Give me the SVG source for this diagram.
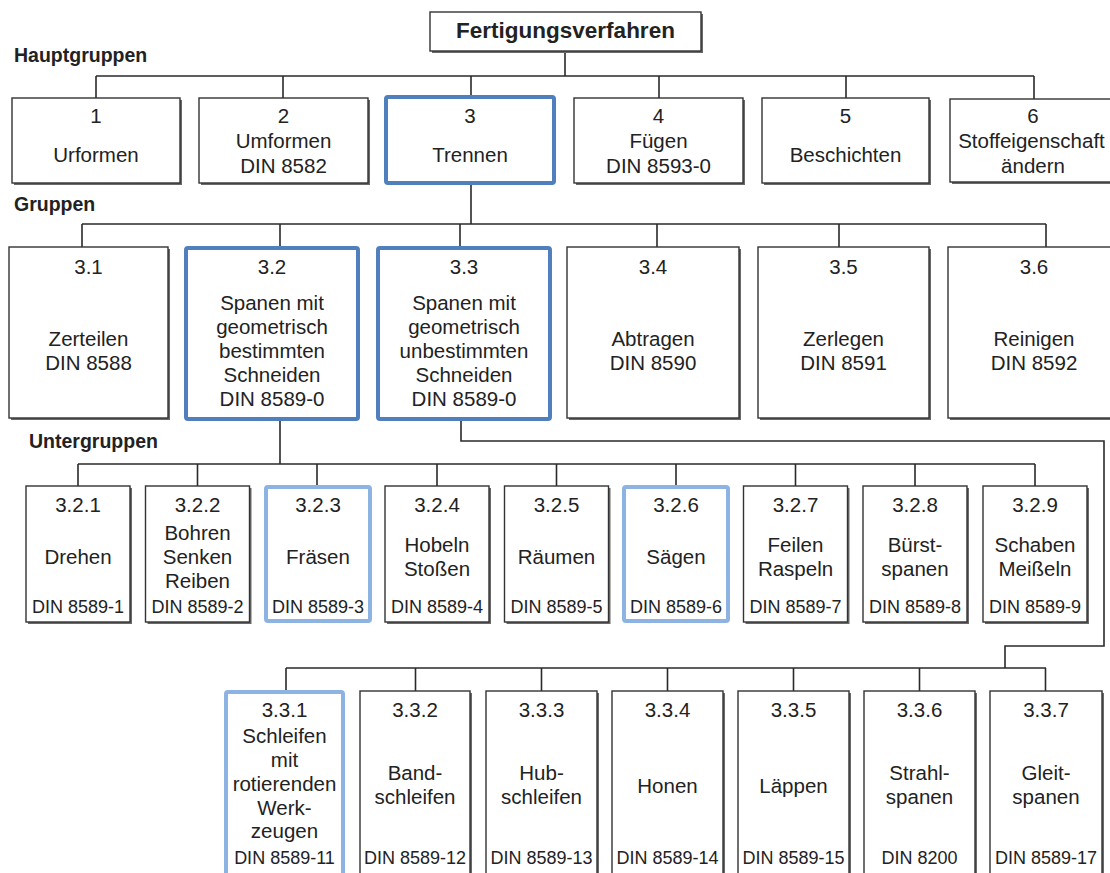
<svg xmlns="http://www.w3.org/2000/svg" width="1110" height="873" viewBox="0 0 1110 873">
<style>
.bg{fill:#fff}
.sh{fill:#6a6a6a}
.box{fill:#fff;stroke:#333;stroke-width:1.4}
.hl{fill:#fff;stroke:#4f7fbd;stroke-width:4}
.hl2{fill:#fff;stroke:#8db3e2;stroke-width:4}
text{font-family:"Liberation Sans",Arial,sans-serif;fill:#222}
.t{font-size:20.5px;text-anchor:middle}
.d{font-size:18px;text-anchor:middle}
.h{font-size:19.5px;font-weight:bold}
.ti{font-size:22.5px;font-weight:bold;text-anchor:middle}
.conn path{stroke:#2a2a2a;stroke-width:1.6;fill:none}
</style>
<rect class="bg" x="0" y="0" width="1110" height="873"/>

<g class="conn" id="connectors">
<path d="M565 51V76M96 76H1034M96 76V98M283 76V98M471 76V96M659 76V98M846 76V98M1034 76V99"/>
<path d="M471 185V224M82 224H1046M82 224V247M280 224V246M460 224V246M657 224V247M839 224V247M1046 224V247"/>
<path d="M280 421V464M78 464H1035M78 464V486M197.5 464V486M317 464V485M437 464V486M556.5 464V486M676 464V485M795.5 464V486M915 464V486M1035 464V486"/>
<path d="M461 421V441H1104V646H1005V668M286 668H1046M286 668V690M415.5 668V691M541.5 668V691M667.5 668V691M793.5 668V691M919.5 668V691M1045.5 668V691"/>
</g>

<text class="h" x="14" y="62">Hauptgruppen</text>
<text class="h" x="14" y="211">Gruppen</text>
<text class="h" x="29" y="448">Untergruppen</text>

<g id="root">
<rect class="sh" x="432" y="14" width="271" height="39"/>
<rect class="box" x="430" y="12" width="271" height="39"/>
<text class="ti" x="565.5" y="38">Fertigungsverfahren</text>
</g>

<g id="hg1"><rect class="sh" x="14" y="100" width="168" height="85"/><rect class="box" x="12" y="98" width="168" height="85"/>
<text class="t" x="96" y="123">1</text><text class="t" x="96" y="162">Urformen</text></g>
<g id="hg2"><rect class="sh" x="201" y="100" width="169" height="85"/><rect class="box" x="199" y="98" width="169" height="85"/>
<text class="t" x="283.5" y="123">2</text><text class="t" x="283.5" y="148">Umformen</text><text class="t" x="283.5" y="173">DIN 8582</text></g>
<g id="hg3"><rect class="hl" x="386" y="97" width="168" height="86" rx="2"/>
<text class="t" x="470" y="123">3</text><text class="t" x="470" y="162">Trennen</text></g>
<g id="hg4"><rect class="sh" x="576" y="100" width="169" height="85"/><rect class="box" x="574" y="98" width="169" height="85"/>
<text class="t" x="658.5" y="123">4</text><text class="t" x="658.5" y="148">Fügen</text><text class="t" x="658.5" y="173">DIN 8593-0</text></g>
<g id="hg5"><rect class="sh" x="764" y="100" width="167" height="85"/><rect class="box" x="762" y="98" width="167" height="85"/>
<text class="t" x="845.5" y="123">5</text><text class="t" x="845.5" y="162">Beschichten</text></g>
<g id="hg6"><rect class="sh" x="952" y="101" width="168" height="83"/><rect class="box" x="950" y="99" width="168" height="83"/>
<text class="t" x="1033" y="123">6</text><text class="t" x="1031.5" y="148">Stoffeigenschaft</text><text class="t" x="1033" y="173">ändern</text></g>

<g id="g31"><rect class="sh" x="11" y="249" width="159" height="171"/><rect class="box" x="9" y="247" width="159" height="171"/>
<text class="t" x="88.5" y="274">3.1</text><text class="t" x="88.5" y="346">Zerteilen</text><text class="t" x="88.5" y="370">DIN 8588</text></g>
<g id="g32"><rect class="hl" x="186" y="248" width="172" height="171" rx="2"/>
<text class="t" x="272" y="274">3.2</text><text class="t" x="272" y="310">Spanen mit</text><text class="t" x="272" y="334">geometrisch</text><text class="t" x="272" y="358">bestimmten</text><text class="t" x="272" y="382">Schneiden</text><text class="t" x="272" y="406">DIN 8589-0</text></g>
<g id="g33"><rect class="hl" x="378" y="248" width="172" height="171" rx="2"/>
<text class="t" x="464" y="274">3.3</text><text class="t" x="464" y="310">Spanen mit</text><text class="t" x="464" y="334">geometrisch</text><text class="t" x="464" y="358">unbestimmten</text><text class="t" x="464" y="382">Schneiden</text><text class="t" x="464" y="406">DIN 8589-0</text></g>
<g id="g34"><rect class="sh" x="569" y="249" width="172" height="171"/><rect class="box" x="567" y="247" width="172" height="171"/>
<text class="t" x="653" y="274">3.4</text><text class="t" x="653" y="346">Abtragen</text><text class="t" x="653" y="370">DIN 8590</text></g>
<g id="g35"><rect class="sh" x="760" y="249" width="171" height="171"/><rect class="box" x="758" y="247" width="171" height="171"/>
<text class="t" x="843.5" y="274">3.5</text><text class="t" x="843.5" y="346">Zerlegen</text><text class="t" x="843.5" y="370">DIN 8591</text></g>
<g id="g36"><rect class="sh" x="950" y="249" width="172" height="171"/><rect class="box" x="948" y="247" width="172" height="171"/>
<text class="t" x="1034" y="274">3.6</text><text class="t" x="1034" y="346">Reinigen</text><text class="t" x="1034" y="370">DIN 8592</text></g>

<g id="u321"><rect class="sh" x="28" y="488" width="104" height="136"/><rect class="box" x="26" y="486" width="104" height="136"/>
<text class="t" x="78" y="512">3.2.1</text><text class="t" x="78" y="564">Drehen</text><text class="d" x="78" y="613">DIN 8589-1</text></g>
<g id="u322"><rect class="sh" x="147.5" y="488" width="104" height="136"/><rect class="box" x="145.5" y="486" width="104" height="136"/>
<text class="t" x="197.5" y="512">3.2.2</text><text class="t" x="197.5" y="540">Bohren</text><text class="t" x="197.5" y="564">Senken</text><text class="t" x="197.5" y="588">Reiben</text><text class="d" x="197.5" y="613">DIN 8589-2</text></g>
<g id="u323"><rect class="hl2" x="266" y="487" width="104" height="134" rx="2"/>
<text class="t" x="318" y="512">3.2.3</text><text class="t" x="318" y="564">Fräsen</text><text class="d" x="318" y="613">DIN 8589-3</text></g>
<g id="u324"><rect class="sh" x="387" y="488" width="104" height="136"/><rect class="box" x="385" y="486" width="104" height="136"/>
<text class="t" x="437" y="512">3.2.4</text><text class="t" x="437" y="552">Hobeln</text><text class="t" x="437" y="576">Stoßen</text><text class="d" x="437" y="613">DIN 8589-4</text></g>
<g id="u325"><rect class="sh" x="506.5" y="488" width="104" height="136"/><rect class="box" x="504.5" y="486" width="104" height="136"/>
<text class="t" x="556.5" y="512">3.2.5</text><text class="t" x="556.5" y="564">Räumen</text><text class="d" x="556.5" y="613">DIN 8589-5</text></g>
<g id="u326"><rect class="hl2" x="624" y="487" width="104" height="134" rx="2"/>
<text class="t" x="676" y="512">3.2.6</text><text class="t" x="676" y="564">Sägen</text><text class="d" x="676" y="613">DIN 8589-6</text></g>
<g id="u327"><rect class="sh" x="745.5" y="488" width="104" height="136"/><rect class="box" x="743.5" y="486" width="104" height="136"/>
<text class="t" x="795.5" y="512">3.2.7</text><text class="t" x="795.5" y="552">Feilen</text><text class="t" x="795.5" y="576">Raspeln</text><text class="d" x="795.5" y="613">DIN 8589-7</text></g>
<g id="u328"><rect class="sh" x="865" y="488" width="104" height="136"/><rect class="box" x="863" y="486" width="104" height="136"/>
<text class="t" x="915" y="512">3.2.8</text><text class="t" x="915" y="552">Bürst-</text><text class="t" x="915" y="576">spanen</text><text class="d" x="915" y="613">DIN 8589-8</text></g>
<g id="u329"><rect class="sh" x="985" y="488" width="104" height="136"/><rect class="box" x="983" y="486" width="104" height="136"/>
<text class="t" x="1035" y="512">3.2.9</text><text class="t" x="1035" y="552">Schaben</text><text class="t" x="1035" y="576">Meißeln</text><text class="d" x="1035" y="613">DIN 8589-9</text></g>

<g id="u331"><rect class="hl2" x="226" y="692" width="117" height="200" rx="2"/>
<text class="t" x="284.5" y="717">3.3.1</text><text class="t" x="284.5" y="743">Schleifen</text><text class="t" x="284.5" y="767">mit</text><text class="t" x="284.5" y="791">rotierenden</text><text class="t" x="284.5" y="815">Werk-</text><text class="t" x="284.5" y="838">zeugen</text><text class="d" x="284.5" y="864">DIN 8589-11</text></g>
<g id="u332"><rect class="sh" x="362" y="693" width="110" height="200"/><rect class="box" x="360" y="691" width="110" height="200"/>
<text class="t" x="415" y="717">3.3.2</text><text class="t" x="415" y="780">Band-</text><text class="t" x="415" y="804">schleifen</text><text class="d" x="415" y="864">DIN 8589-12</text></g>
<g id="u333"><rect class="sh" x="488" y="693" width="111" height="200"/><rect class="box" x="486" y="691" width="111" height="200"/>
<text class="t" x="541.5" y="717">3.3.3</text><text class="t" x="541.5" y="780">Hub-</text><text class="t" x="541.5" y="804">schleifen</text><text class="d" x="541.5" y="864">DIN 8589-13</text></g>
<g id="u334"><rect class="sh" x="614" y="693" width="111" height="200"/><rect class="box" x="612" y="691" width="111" height="200"/>
<text class="t" x="667.5" y="717">3.3.4</text><text class="t" x="667.5" y="793">Honen</text><text class="d" x="667.5" y="864">DIN 8589-14</text></g>
<g id="u335"><rect class="sh" x="740" y="693" width="111" height="200"/><rect class="box" x="738" y="691" width="111" height="200"/>
<text class="t" x="793.5" y="717">3.3.5</text><text class="t" x="793.5" y="793">Läppen</text><text class="d" x="793.5" y="864">DIN 8589-15</text></g>
<g id="u336"><rect class="sh" x="866" y="693" width="111" height="200"/><rect class="box" x="864" y="691" width="111" height="200"/>
<text class="t" x="919.5" y="717">3.3.6</text><text class="t" x="919.5" y="780">Strahl-</text><text class="t" x="919.5" y="804">spanen</text><text class="d" x="919.5" y="864">DIN 8200</text></g>
<g id="u337"><rect class="sh" x="992" y="693" width="112" height="200"/><rect class="box" x="990" y="691" width="112" height="200"/>
<text class="t" x="1046" y="717">3.3.7</text><text class="t" x="1046" y="780">Gleit-</text><text class="t" x="1046" y="804">spanen</text><text class="d" x="1046" y="864">DIN 8589-17</text></g>
</svg>
